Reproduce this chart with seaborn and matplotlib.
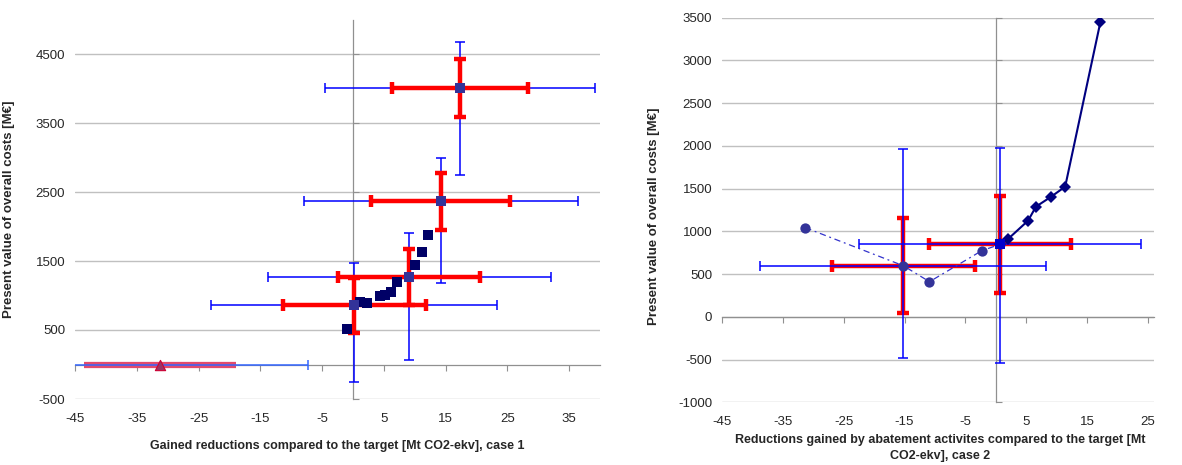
import numpy as np
import pandas as pd
import matplotlib
matplotlib.use("Agg")
import matplotlib.pyplot as plt
import seaborn as sns

# ---- case 1 (left panel) ----
case1_x = [17.3, 14.2, 9.1, 0.2]
case1_y = [4005, 2365, 1273, 858]
case1_xerr_wide = [21.9, 22.2, 22.9, 23.1]
case1_yerr_wide_lo = [1260, 1190, 1210, 1110]
case1_yerr_wide_hi = [670, 630, 635, 610]
case1_xerr_narrow = [11.0, 11.3, 11.45, 11.6]
case1_yerr_narrow = [418, 413, 408, 395]

steps1_x = [-0.9, 1.2, 2.3, 4.3, 5.2, 6.1, 7.1, 10.1, 11.1, 12.2]
steps1_y = [510, 910, 888, 990, 1005, 1055, 1190, 1440, 1630, 1880]

tri_x = [-31.3]
tri_y = [0]
tri_xerr_wide = [24.0]
tri_xerr_narrow = [12.3]

# ---- case 2 (right panel) ----
case2_x = [-15.2, 0.7]
case2_y = [598, 848]
case2_xerr_wide = [23.5, 23.2]
case2_yerr_wide_lo = [1080, 1385]
case2_yerr_wide_hi = [1370, 1130]
case2_xerr_narrow = [11.8, 11.6]
case2_yerr_narrow = [555, 570]

dashed2_x = [-31.3, -15.2, -10.9, -2.3, 0.7]
dashed2_y = [1043, 598, 411, 774, 848]
solid2_x = [0.7, 2.0, 5.3, 6.6, 9.1, 11.4, 17.2]
solid2_y = [848, 910, 1125, 1289, 1406, 1523, 3453]

ylabel = "Present value of overall costs [M€]"
xlabel1 = "Gained reductions compared to the target [Mt CO2-ekv], case 1"
xlabel2 = "Reductions gained by abatement activites compared to the target [Mt\nCO2-ekv], case 2"

sns.set_style("white")
plt.rcParams["font.family"] = ["Liberation Sans", "DejaVu Sans"]
plt.rcParams["axes.unicode_minus"] = False

BLUE = "#0000ff"
RED = "#ff0000"
GRID = "#c0c0c0"
AXIS = "#909090"

fig = plt.figure(figsize=(11.82, 4.65), dpi=100)
ax1 = fig.add_axes([75 / 1182, 1 - 399 / 465, 525 / 1182, 379.5 / 465])
ax2 = fig.add_axes([722 / 1182, 1 - 402.3 / 465, 432 / 1182, 384.6 / 465])


def style_axes(ax, xlim, ylim, xticks, yticks, grid_y):
    ax.set_xlim(*xlim)
    ax.set_ylim(*ylim)
    for s in ax.spines.values():
        s.set_visible(False)
    ax.set_xticks(xticks)
    ax.set_yticks(yticks)
    ax.tick_params(axis="both", length=0, labelsize=9.5)
    ax.tick_params(axis="x", pad=10)
    ax.tick_params(axis="y", pad=7)
    for gy in grid_y:
        ax.axhline(gy, color=GRID, lw=1.0, zorder=0)
    # axes crossing at zero, ticks but no labels
    fy = (0 - ylim[0]) / (ylim[1] - ylim[0])
    fx = (0 - xlim[0]) / (xlim[1] - xlim[0])
    sx = ax.secondary_xaxis(fy)
    sx.set_xticks(xticks)
    sx.tick_params(length=4, color=AXIS, labelbottom=False, labeltop=False,
                   direction="out")
    sy = ax.secondary_yaxis(fx)
    sy.set_yticks(yticks)
    sy.tick_params(length=4, color=AXIS, labelleft=False, labelright=False,
                   direction="out")
    for sec in (sx, sy):
        for s in sec.spines.values():
            s.set_color(AXIS)
            s.set_linewidth(0.9)


# ---------------- left panel ----------------
style_axes(ax1, (-45, 40), (-500, 5000), np.arange(-45, 40, 10),
           np.arange(-500, 5000, 1000), np.arange(-500, 5000, 1000))

ax1.errorbar(case1_x, case1_y, xerr=case1_xerr_wide,
             yerr=[case1_yerr_wide_lo, case1_yerr_wide_hi], fmt="none",
             ecolor=BLUE, elinewidth=1.1, capsize=3.5, capthick=1.1, zorder=3)
ax1.errorbar(tri_x, tri_y, xerr=tri_xerr_narrow, fmt="none",
             ecolor="#e24a6c", elinewidth=4.5, capsize=0, zorder=3)
ax1.errorbar(tri_x, tri_y, xerr=tri_xerr_wide, fmt="none",
             ecolor="#3366ff", elinewidth=1.1, capsize=3.5, capthick=1.1, zorder=4)
ax1.errorbar(case1_x, case1_y, xerr=case1_xerr_narrow, yerr=case1_yerr_narrow,
             fmt="none", ecolor=RED, elinewidth=3.2, capsize=4.5, capthick=3.2,
             zorder=5)

sns.scatterplot(x=steps1_x, y=steps1_y, ax=ax1, marker="s", color="#000066",
                s=42, linewidth=0, zorder=6)
sns.scatterplot(x=case1_x, y=case1_y, ax=ax1, marker="s", color="#333399",
                s=55, linewidth=0, zorder=7)
sns.scatterplot(x=tri_x, y=tri_y, ax=ax1, marker="^", color="#993366",
                edgecolor="#cc0033", s=55, linewidth=0.8, zorder=7)

ax1.set_ylabel(ylabel, fontsize=9.5, fontweight="bold")
ax1.yaxis.set_label_coords(-0.114, 0.5)
ax1.set_xlabel(xlabel1, fontsize=9, fontweight="bold")
ax1.xaxis.set_label_coords(0.5, -0.124)
ax1.xaxis.label.set_va("center")

# ---------------- right panel ----------------
style_axes(ax2, (-45, 26), (-1000, 3500), np.arange(-45, 26, 10),
           np.arange(-1000, 3501, 500), np.arange(-1000, 3501, 500))

ax2.errorbar(case2_x, case2_y, xerr=case2_xerr_narrow, yerr=case2_yerr_narrow,
             fmt="none", ecolor=RED, elinewidth=3.2, capsize=4.5, capthick=3.2,
             zorder=3)
ax2.errorbar(case2_x, case2_y, xerr=case2_xerr_wide,
             yerr=[case2_yerr_wide_lo, case2_yerr_wide_hi], fmt="none",
             ecolor=BLUE, elinewidth=1.1, capsize=3.5, capthick=1.1, zorder=4)

sns.lineplot(x=dashed2_x, y=dashed2_y, ax=ax2, sort=False, estimator=None,
             color="#3333cc", linewidth=0.9, linestyle=(0, (5, 3, 1.5, 3)),
             zorder=5)
sns.scatterplot(x=dashed2_x, y=dashed2_y, ax=ax2, marker="o", color="#333399",
                s=55, linewidth=0, zorder=6)
sns.lineplot(x=solid2_x, y=solid2_y, ax=ax2, sort=False, estimator=None,
             color="#000080", linewidth=1.5, marker="D", markersize=6.5,
             markeredgewidth=0, zorder=6)
sns.scatterplot(x=case2_x[1:], y=case2_y[1:], ax=ax2, marker="s", color="#0000cc",
                s=60, linewidth=0, zorder=7)

ax2.set_ylabel(ylabel, fontsize=9.5, fontweight="bold")
ax2.yaxis.set_label_coords(-0.1435, 0.484)
ax2.set_xlabel(xlabel2, fontsize=9, fontweight="bold", linespacing=1.5)
ax2.xaxis.set_label_coords(0.505, -0.082)
ax2.xaxis.label.set_va("top")

fig.savefig("out.png", dpi=100)
